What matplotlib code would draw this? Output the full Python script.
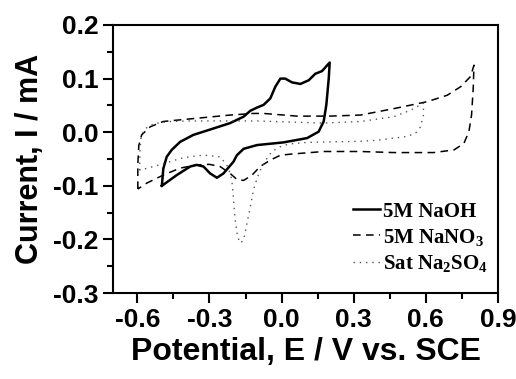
import matplotlib
matplotlib.use("Agg")
import matplotlib.pyplot as plt
from matplotlib.ticker import MultipleLocator, FormatStrFormatter

plt.rcParams['axes.unicode_minus'] = False
plt.rcParams['mathtext.default'] = 'regular'

# 5M NaOH (solid)
naoh_x = [-0.498, -0.492, -0.478, -0.457, -0.422, -0.367, -0.283, -0.214, -0.158, -0.130, -0.102,
          -0.075, -0.047, -0.026, -0.005, 0.015, 0.043, 0.078, 0.113, 0.140, 0.168, 0.200,
          0.196, 0.186, 0.175, 0.154, 0.106, 0.008, -0.102, -0.158, -0.186, -0.200, -0.242,
          -0.269, -0.297, -0.325, -0.353, -0.380, -0.436, -0.498]
naoh_y = [-0.100, -0.068, -0.046, -0.033, -0.018, -0.005, 0.007, 0.017, 0.029, 0.040, 0.046,
          0.051, 0.063, 0.085, 0.100, 0.100, 0.093, 0.090, 0.097, 0.109, 0.114, 0.130,
          0.100, 0.051, 0.020, 0.001, -0.011, -0.019, -0.024, -0.031, -0.043, -0.055, -0.077,
          -0.085, -0.077, -0.064, -0.061, -0.064, -0.080, -0.100]

# 5M NaNO3 (dashed)
nano3_x = [-0.598, -0.598, -0.594, -0.582, -0.547, -0.492, -0.353, -0.214, -0.117, -0.075, 0.064,
           0.200, 0.328, 0.467, 0.606, 0.689, 0.745, 0.786, 0.800,
           0.797, 0.790, 0.779, 0.758, 0.717, 0.633, 0.467, 0.328, 0.175, 0.036, -0.005, -0.047,
           -0.089, -0.123, -0.158, -0.186, -0.214, -0.256, -0.300, -0.353, -0.422, -0.492,
           -0.561, -0.598]
nano3_y = [-0.106, -0.060, -0.025, -0.005, 0.010, 0.020, 0.026, 0.032, 0.035, 0.035, 0.030,
           0.030, 0.032, 0.044, 0.057, 0.069, 0.085, 0.104, 0.125,
           0.082, 0.032, 0.001, -0.021, -0.033, -0.038, -0.038, -0.036, -0.036, -0.041, -0.043,
           -0.052, -0.064, -0.080, -0.090, -0.088, -0.077, -0.064, -0.060, -0.061, -0.067,
           -0.080, -0.095, -0.106]

# Sat Na2SO4 (dotted)
na2so4_x = [-0.590, -0.590, -0.585, -0.570, -0.530, -0.464, -0.380, -0.102, 0.175, 0.328, 0.467,
            0.536, 0.590,
            0.590, 0.578, 0.557, 0.522, 0.397, 0.328, 0.106, 0.030, -0.005, -0.040, -0.061,
            -0.082, -0.102, -0.117, -0.130, -0.144, -0.158, -0.172, -0.183, -0.193, -0.200,
            -0.207, -0.214, -0.228, -0.256, -0.318, -0.353, -0.422, -0.464, -0.533, -0.590]
na2so4_y = [-0.071, -0.040, -0.010, 0.006, 0.016, 0.020, 0.021, 0.021, 0.017, 0.020, 0.029,
            0.041, 0.054,
            0.032, 0.010, -0.002, -0.008, -0.015, -0.017, -0.019, -0.022, -0.027, -0.036, -0.049,
            -0.064, -0.086, -0.108, -0.139, -0.170, -0.201, -0.207, -0.195, -0.164, -0.126,
            -0.089, -0.077, -0.061, -0.046, -0.043, -0.044, -0.049, -0.055, -0.064, -0.071]

labels = ['5M NaOH', '5M NaNO$_3$', 'Sat Na$_2$SO$_4$']

fig = plt.figure(figsize=(5.16, 3.79), dpi=100)
ax = fig.add_axes([113.3/516, 1 - 293/379, (498 - 113.3)/516, (293 - 25)/379])

ax.plot(naoh_x, naoh_y, color='black', lw=1.8, ls='-', solid_joinstyle='round',
        label=labels[0])
ax.plot(nano3_x, nano3_y, color='black', lw=1.1, ls=(0, (5, 3.5)), label=labels[1])
ax.plot(na2so4_x, na2so4_y, color='#555555', lw=1.0, ls=(0, (1, 3.5)), label=labels[2])

ax.set_xlim(-0.7, 0.9)
ax.set_ylim(-0.3, 0.2)
ax.xaxis.set_major_locator(MultipleLocator(0.3))
ax.xaxis.set_minor_locator(MultipleLocator(0.15))
ax.yaxis.set_major_locator(MultipleLocator(0.1))
ax.yaxis.set_minor_locator(MultipleLocator(0.05))
ax.xaxis.set_major_formatter(FormatStrFormatter('%.1f'))
ax.yaxis.set_major_formatter(FormatStrFormatter('%.1f'))

for s in ax.spines.values():
    s.set_linewidth(1.5)
ax.tick_params(which='major', direction='out', length=7, width=1.5, top=False, right=False)
ax.tick_params(which='minor', direction='out', length=4, width=1.5, top=False, right=False)

for lab in ax.get_xticklabels() + ax.get_yticklabels():
    lab.set_fontfamily('Liberation Sans')
    lab.set_fontweight('bold')
    lab.set_fontsize(19)

ax.set_xlabel('Potential, E / V vs. SCE', fontfamily='Liberation Sans', fontweight='bold',
              fontsize=23, labelpad=4)
ax.set_ylabel('Current, I / mA', fontfamily='Liberation Sans', fontweight='bold',
              fontsize=22, labelpad=6)

leg = ax.legend(loc='lower right', bbox_to_anchor=(0.995, 0.04), frameon=False,
                prop={'family': 'Liberation Serif', 'weight': 'bold', 'size': 15},
                handlelength=1.3, handletextpad=0.15, labelspacing=0.25, borderaxespad=0)

fig.savefig('out.png', dpi=100)
